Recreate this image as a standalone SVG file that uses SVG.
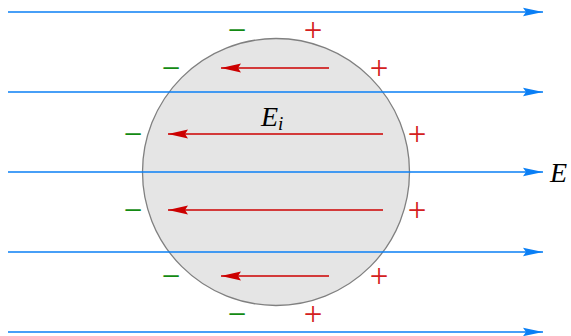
<svg xmlns="http://www.w3.org/2000/svg" width="571" height="336" viewBox="0 0 571 336">
<style>
.field{stroke:#0a7ff5;stroke-width:1.5;fill:none}
.inner{stroke:#cc0000;stroke-width:1.5;fill:none}
.pos{fill:#d42020;font-family:"Liberation Serif",serif;font-size:33px;text-anchor:middle}
.neg{fill:#138a13;font-family:"Liberation Serif",serif;font-size:33px;text-anchor:middle}
.lbl{fill:#000;font-family:"Liberation Serif",serif;font-style:italic;font-size:28px}
</style>
<defs>
<marker id="ab" markerWidth="20" markerHeight="10" refX="20" refY="5" orient="auto" markerUnits="userSpaceOnUse"><path d="M0,0.8 L20,5 L0,9.2 L3,5 Z" fill="#0a7ff5"/></marker>
<marker id="ar" markerWidth="20" markerHeight="10" refX="20" refY="5" orient="auto" markerUnits="userSpaceOnUse"><path d="M0,0.5 L20,5 L0,9.5 L3,5 Z" fill="#cc0000"/></marker>
</defs>
<g id="sphere"><circle cx="276" cy="172" r="133.5" fill="#e5e5e5" stroke="#808080" stroke-width="1.3"/></g>
<g id="connectors">
<line class="field" x1="8" y1="12" x2="543" y2="12" marker-end="url(#ab)"/>
<line class="field" x1="8" y1="92" x2="543" y2="92" marker-end="url(#ab)"/>
<line class="field" x1="8" y1="172" x2="543" y2="172" marker-end="url(#ab)"/>
<line class="field" x1="8" y1="252" x2="543" y2="252" marker-end="url(#ab)"/>
<line class="field" x1="8" y1="332" x2="543" y2="332" marker-end="url(#ab)"/>
<line class="inner" x1="329" y1="68" x2="221" y2="68" marker-end="url(#ar)"/>
<line class="inner" x1="383" y1="134" x2="168" y2="134" marker-end="url(#ar)"/>
<line class="inner" x1="383" y1="210" x2="168" y2="210" marker-end="url(#ar)"/>
<line class="inner" x1="329" y1="276" x2="221" y2="276" marker-end="url(#ar)"/>
</g>
<g id="charges">
<text class="neg" x="237" y="41">−</text>
<text class="pos" x="313" y="41">+</text>
<text class="neg" x="171" y="79">−</text>
<text class="pos" x="379" y="79">+</text>
<text class="neg" x="133" y="145">−</text>
<text class="pos" x="417" y="145">+</text>
<text class="neg" x="133" y="221">−</text>
<text class="pos" x="417" y="221">+</text>
<text class="neg" x="171" y="287">−</text>
<text class="pos" x="379" y="287">+</text>
<text class="neg" x="237" y="325">−</text>
<text class="pos" x="313" y="325">+</text>
</g>
<g id="labels">
<text class="lbl" x="261" y="126">E<tspan font-size="19px" dy="4">i</tspan></text>
<text class="lbl" x="550" y="182">E</text>
</g>
</svg>
